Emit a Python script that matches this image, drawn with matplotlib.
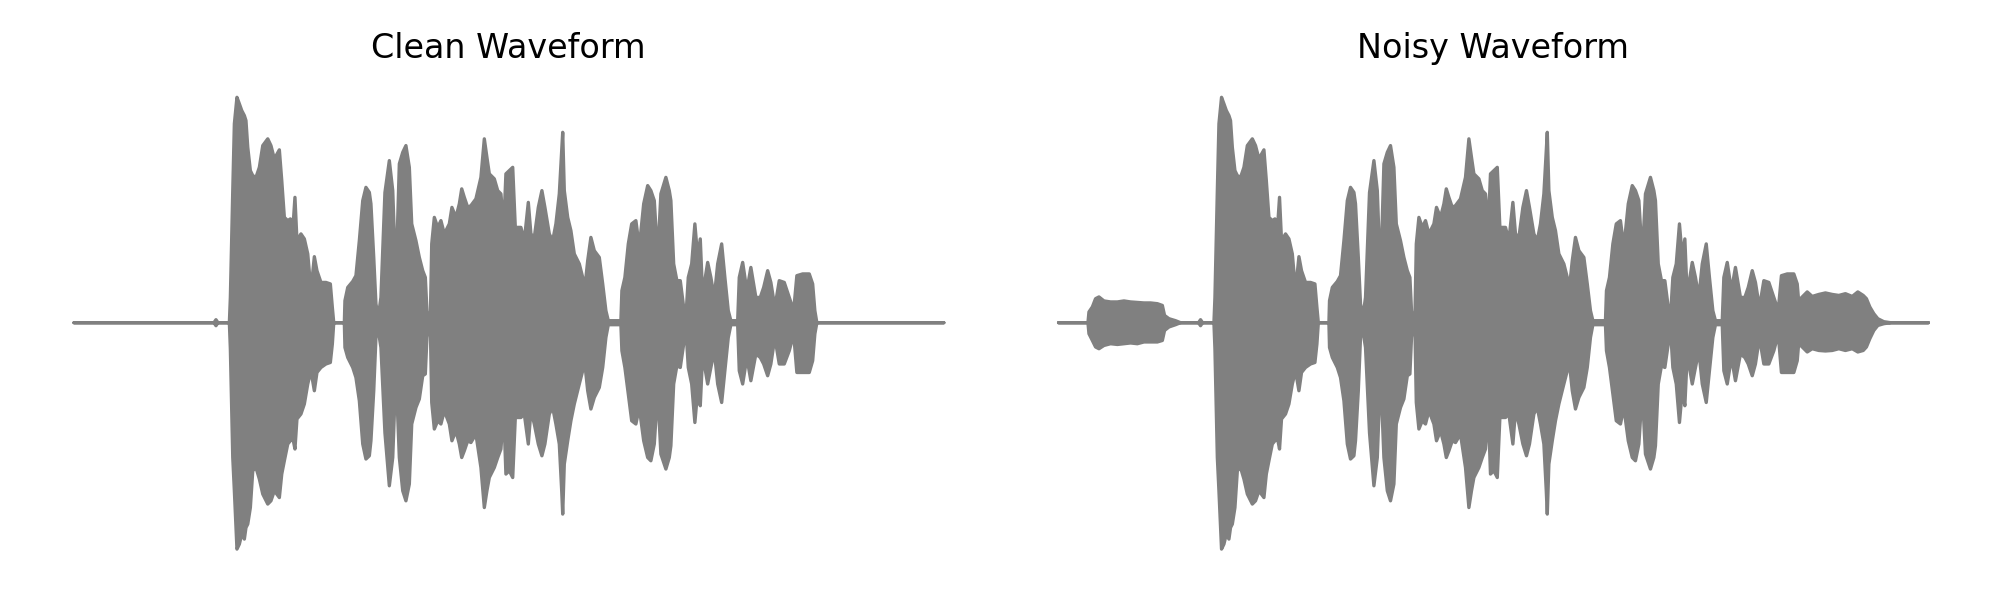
import numpy as np
import matplotlib
matplotlib.use("Agg")
import matplotlib.pyplot as plt

# waveform envelope: time (s), upper / lower peak amplitude
time = [0.000, 0.700, 0.710, 0.720, 0.777, 0.782, 0.794, 0.802, 0.815, 0.827,
        0.839, 0.852, 0.860, 0.869, 0.882, 0.894, 0.910, 0.927, 0.944, 0.969,
        0.985, 1.002, 1.027, 1.039, 1.052, 1.069, 1.082, 1.094, 1.105, 1.115,
        1.135, 1.152, 1.169, 1.185, 1.202, 1.215, 1.235, 1.260, 1.282, 1.292,
        1.299, 1.352, 1.355, 1.369, 1.394, 1.410, 1.427, 1.444, 1.460, 1.477,
        1.485, 1.499, 1.510, 1.522, 1.535, 1.555, 1.577, 1.594, 1.610, 1.627,
        1.644, 1.660, 1.677, 1.689, 1.710, 1.727, 1.744, 1.757, 1.765, 1.772,
        1.782, 1.789, 1.802, 1.819, 1.835, 1.852, 1.877, 1.890, 1.910, 1.927,
        1.939, 1.952, 1.969, 1.985, 2.010, 2.035, 2.052, 2.065, 2.077, 2.102,
        2.119, 2.135, 2.149, 2.160, 2.177, 2.194, 2.207, 2.227, 2.235, 2.252,
        2.272, 2.285, 2.302, 2.322, 2.340, 2.355, 2.377, 2.394, 2.410, 2.427,
        2.439, 2.444, 2.452, 2.469, 2.485, 2.502, 2.527, 2.544, 2.555, 2.569,
        2.585, 2.602, 2.627, 2.644, 2.660, 2.672, 2.735, 2.740, 2.755, 2.772,
        2.789, 2.810, 2.827, 2.849, 2.869, 2.885, 2.902, 2.919, 2.935, 2.960,
        2.977, 2.985, 2.999, 3.015, 3.032, 3.049, 3.060, 3.072, 3.089, 3.105,
        3.119, 3.132, 3.144, 3.152, 3.169, 3.185, 3.202, 3.219, 3.239, 3.255,
        3.272, 3.285, 3.319, 3.327, 3.344, 3.365, 3.385, 3.410, 3.432, 3.449,
        3.469, 3.485, 3.505, 3.527, 3.552, 3.577, 3.599, 3.615, 3.644, 3.677,
        3.694, 3.705, 3.715, 4.350]

clean_upper = [0, 0, 0.012, 0, 0, 0.101, 0.528, 0.795, 0.901, 0.875,
               0.848, 0.828, 0.808, 0.701, 0.608, 0.588, 0.581, 0.621, 0.708, 0.735,
               0.708, 0.655, 0.691, 0.568, 0.421, 0.408, 0.415, 0.368, 0.501, 0.328,
               0.355, 0.335, 0.275, 0.128, 0.264, 0.208, 0.161, 0.161, 0.155, 0.061,
               0, 0, 0.088, 0.141, 0.165, 0.188, 0.328, 0.488, 0.541, 0.521,
               0.475, 0.261, 0.075, 0.024, 0.101, 0.520, 0.648, 0.528, 0.168, 0.635,
               0.681, 0.708, 0.621, 0.395, 0.328, 0.261, 0.208, 0.181, 0.048, 0.016,
               0.016, 0.315, 0.421, 0.381, 0.408, 0.355, 0.395, 0.461, 0.421, 0.475,
               0.535, 0.501, 0.461, 0.468, 0.495, 0.581, 0.735, 0.661, 0.595, 0.575,
               0.528, 0.515, 0.381, 0.595, 0.608, 0.621, 0.381, 0.381, 0.381, 0.328,
               0.481, 0.355, 0.341, 0.461, 0.528, 0.461, 0.355, 0.328, 0.395, 0.515,
               0.688, 0.761, 0.528, 0.421, 0.368, 0.275, 0.235, 0.181, 0.141, 0.248,
               0.341, 0.288, 0.261, 0.155, 0.048, 0.008, 0.008, 0.128, 0.181, 0.315,
               0.395, 0.408, 0.301, 0.475, 0.548, 0.528, 0.488, 0.261, 0.515, 0.581,
               0.528, 0.488, 0.235, 0.168, 0.168, 0.061, 0.020, 0.181, 0.235, 0.395,
               0.261, 0.335, 0.101, 0.155, 0.241, 0.181, 0.101, 0.235, 0.315, 0.181,
               0.048, 0.008, 0.008, 0.181, 0.241, 0.128, 0.221, 0.101, 0.101, 0.141,
               0.208, 0.161, 0.061, 0.168, 0.161, 0.101, 0.048, 0.188, 0.195, 0.195,
               0.155, 0.048, 0, 0]

clean_lower = [0, 0, -0.012, 0, 0, -0.105, -0.539, -0.672, -0.905, -0.885,
               -0.845, -0.865, -0.819, -0.805, -0.739, -0.592, -0.579, -0.625, -0.685, -0.725,
               -0.712, -0.672, -0.699, -0.605, -0.552, -0.485, -0.472, -0.459, -0.505, -0.385,
               -0.365, -0.325, -0.245, -0.192, -0.272, -0.199, -0.179, -0.165, -0.159, -0.085,
               0, 0, -0.099, -0.139, -0.179, -0.219, -0.312, -0.485, -0.545, -0.532,
               -0.472, -0.272, -0.059, -0.032, -0.099, -0.440, -0.652, -0.539, -0.192, -0.539,
               -0.672, -0.712, -0.645, -0.405, -0.339, -0.305, -0.212, -0.205, -0.059, -0.016,
               -0.016, -0.319, -0.425, -0.392, -0.405, -0.352, -0.405, -0.472, -0.432, -0.485,
               -0.539, -0.512, -0.472, -0.479, -0.445, -0.579, -0.739, -0.672, -0.619, -0.579,
               -0.539, -0.505, -0.352, -0.605, -0.592, -0.619, -0.379, -0.379, -0.379, -0.365,
               -0.485, -0.352, -0.405, -0.485, -0.532, -0.485, -0.365, -0.339, -0.405, -0.485,
               -0.672, -0.765, -0.565, -0.472, -0.392, -0.325, -0.245, -0.192, -0.165, -0.272,
               -0.345, -0.299, -0.259, -0.179, -0.059, -0.008, -0.008, -0.112, -0.179, -0.285,
               -0.392, -0.405, -0.339, -0.472, -0.539, -0.552, -0.485, -0.272, -0.525, -0.585,
               -0.539, -0.492, -0.245, -0.172, -0.179, -0.085, -0.020, -0.179, -0.245, -0.399,
               -0.272, -0.332, -0.125, -0.165, -0.245, -0.179, -0.112, -0.245, -0.319, -0.192,
               -0.059, -0.008, -0.008, -0.192, -0.245, -0.139, -0.232, -0.125, -0.139, -0.165,
               -0.212, -0.165, -0.059, -0.165, -0.165, -0.112, -0.045, -0.199, -0.199, -0.199,
               -0.152, -0.045, 0, 0]

# extra noise bursts that only show up in the noisy recording
noise_start_time = [0.147, 0.152, 0.169, 0.185, 0.202, 0.227, 0.260, 0.294, 0.327, 0.360,
                    0.394, 0.427, 0.460, 0.494, 0.519, 0.530, 0.552, 0.585, 0.610]
noise_start_upper = [0, 0.043, 0.063, 0.096, 0.103, 0.087, 0.083, 0.083, 0.087, 0.083,
                     0.081, 0.079, 0.079, 0.076, 0.069, 0.029, 0.016, 0.008, 0]
noise_start_lower = [0, -0.044, -0.071, -0.097, -0.104, -0.091, -0.084, -0.087, -0.084, -0.081,
                     -0.084, -0.077, -0.077, -0.077, -0.071, -0.031, -0.017, -0.008, 0]

noise_end_time = [3.690, 3.702, 3.719, 3.744, 3.769, 3.802, 3.835, 3.869, 3.902, 3.935,
                  3.969, 3.997, 4.024, 4.040, 4.057, 4.077, 4.097, 4.127, 4.160]
noise_end_upper = [0.085, 0.089, 0.103, 0.123, 0.105, 0.113, 0.119, 0.113, 0.109, 0.116,
                   0.105, 0.123, 0.109, 0.096, 0.063, 0.036, 0.016, 0.004, 0]
noise_end_lower = [-0.085, -0.084, -0.097, -0.117, -0.104, -0.111, -0.113, -0.111, -0.104, -0.111,
                   -0.104, -0.117, -0.111, -0.097, -0.064, -0.031, -0.011, -0.004, 0]

wave_color = "gray"

fig, axes = plt.subplots(1, 2, figsize=(10, 3))
fig.subplots_adjust(left=0.015, right=0.9857, bottom=0.064, top=0.862, wspace=0.029)


def draw_envelope(ax, t, up, lo):
    ax.fill_between(t, lo, up, color=wave_color, linewidth=1.2, edgecolor=wave_color)


ax = axes[0]
draw_envelope(ax, time, clean_upper, clean_lower)
ax.set_title("Clean Waveform", pad=8.8)

ax = axes[1]
draw_envelope(ax, time, clean_upper, clean_lower)
draw_envelope(ax, noise_start_time, noise_start_upper, noise_start_lower)
draw_envelope(ax, noise_end_time, noise_end_upper, noise_end_lower)
ax.set_title("Noisy Waveform", pad=8.8)

for ax in axes:
    ax.set_xlim(-0.2175, 4.5675)
    ax.set_ylim(-0.957, 0.957)
    ax.axis("off")

fig.savefig("out.png", dpi=200)
